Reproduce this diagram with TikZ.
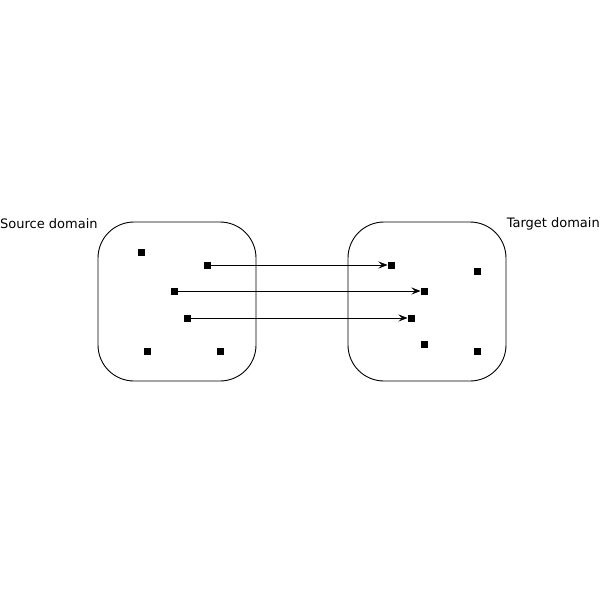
\documentclass[tikz,border=0pt]{standalone}
\usepackage{fontspec}
\setmainfont{DejaVu Sans}
\usetikzlibrary{arrows.meta}
\begin{document}
\begin{tikzpicture}[x=1pt,y=-1pt,
  dotbox/.style={fill=black,draw=none,minimum size=7pt,inner sep=0pt,outer sep=0pt},
  domainbox/.style={draw=black,line width=0.9pt,rounded corners=36pt,minimum width=158pt,minimum height=159pt,inner sep=0pt},
  lbl/.style={font=\fontsize{13}{15}\selectfont,inner sep=0pt},
  mapline/.style={line width=0.6pt,-{Stealth[length=9pt,width=7pt,inset=3.5pt]}}]
\useasboundingbox (0,0) rectangle (600,600);
\node[domainbox] (src) at (177,301.5) {};
\node[domainbox] (tgt) at (427,301.5) {};
\node[lbl,anchor=west] (srclbl) at (0,224) {Source domain};
\node[lbl,anchor=east] (tgtlbl) at (600,224) {Target domain};
\node[dotbox] (s1) at (141,252) {};
\node[dotbox] (s2) at (207,265) {};
\node[dotbox] (s3) at (174,291) {};
\node[dotbox] (s4) at (187,318) {};
\node[dotbox] (s5) at (147,351) {};
\node[dotbox] (s6) at (220,351) {};
\node[dotbox] (t1) at (391,265) {};
\node[dotbox] (t2) at (424,291) {};
\node[dotbox] (t3) at (411,318) {};
\node[dotbox] (t4) at (477,271) {};
\node[dotbox] (t5) at (424,344) {};
\node[dotbox] (t6) at (477,351) {};
\draw[mapline] (s2) -- (t1);
\draw[mapline] (s3) -- (t2);
\draw[mapline] (s4) -- (t3);
\end{tikzpicture}
\end{document}
